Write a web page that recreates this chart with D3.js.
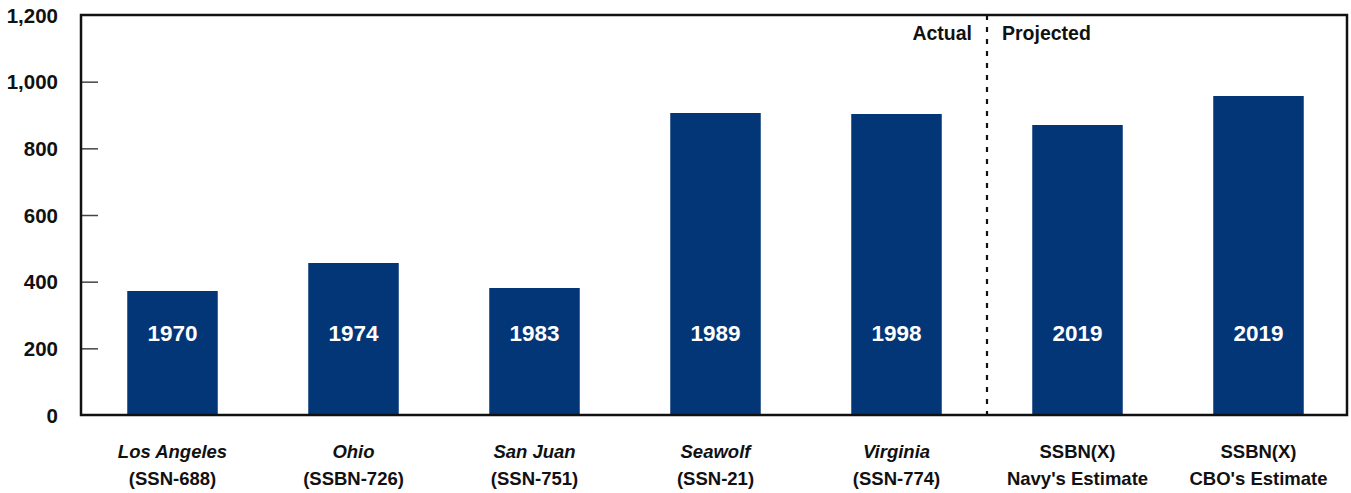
<!DOCTYPE html>
<html>
<head>
<meta charset="utf-8">
<script src="https://cdn.jsdelivr.net/npm/d3@7"></script>
<style>
  body { margin: 0; background: #fff; }
  svg { display: block; font-family: "Liberation Sans", Arial, sans-serif; }
</style>
</head>
<body>
<svg id="chart" width="1351" height="493"></svg>
<script>
// ---- data ----
const shipNames = ["Los Angeles", "Ohio", "San Juan", "Seawolf", "Virginia", "SSBN(X)", "SSBN(X)"];
const shipItalic = [true, true, true, true, true, false, false];
const shipSubLabels = ["(SSN-688)", "(SSBN-726)", "(SSN-751)", "(SSN-21)", "(SSN-774)", "Navy's Estimate", "CBO's Estimate"];
const years = ["1970", "1974", "1983", "1989", "1998", "2019", "2019"];
const values = [372, 456, 381, 906, 903, 870, 957];
const yTicks = [0, 200, 400, 600, 800, 1000, 1200];
const dividerAfter = 4; // index of last "Actual" bar

// ---- layout ----
const W = 1351, H = 493;
const m = { left: 81, right: 4, top: 15, bottom: 78 };
const svg = d3.select("#chart");
const x = d3.scaleBand().domain(d3.range(values.length))
  .range([m.left + 1, W - m.right + 2]).paddingInner(0.5).paddingOuter(0.25);
const y = d3.scaleLinear().domain([0, 1200]).range([H - m.bottom, m.top]);
const barColor = "#033677";

// bars
svg.append("g").selectAll("rect").data(values).join("rect")
  .attr("x", (d, i) => x(i)).attr("width", x.bandwidth())
  .attr("y", d => y(d)).attr("height", d => y(0) - y(d))
  .attr("fill", barColor);

// year labels inside bars
svg.append("g").selectAll("text").data(years).join("text")
  .attr("x", (d, i) => x(i) + x.bandwidth() / 2)
  .attr("y", y(246))
  .attr("text-anchor", "middle").attr("dominant-baseline", "central")
  .attr("fill", "#fff").attr("font-weight", "bold").attr("font-size", 22.5)
  .text(d => d);

// y axis (ticks inward)
const yAxis = d3.axisRight(y).tickValues(yTicks.filter(t => t > 0 && t < 1200)).tickSize(17).tickFormat("");
const gy = svg.append("g").attr("transform", `translate(${m.left},0)`).call(yAxis);
gy.select(".domain").remove();
gy.selectAll(".tick line").attr("stroke", "#444").attr("stroke-width", 1.5);

// y tick labels
svg.append("g").selectAll("text").data(yTicks).join("text")
  .attr("x", m.left - 23).attr("y", d => y(d))
  .attr("text-anchor", "end").attr("dominant-baseline", "central")
  .attr("font-weight", "bold").attr("font-size", 20.5).attr("fill", "#111")
  .text(d => d3.format(",")(d));

// frame
svg.append("rect")
  .attr("x", m.left).attr("y", m.top)
  .attr("width", W - m.right - m.left).attr("height", y(0) - m.top)
  .attr("fill", "none").attr("stroke", "#111").attr("stroke-width", 2.5);

// divider
const divX = (x(dividerAfter) + x.bandwidth() + x(dividerAfter + 1)) / 2;
svg.append("line")
  .attr("x1", divX).attr("x2", divX).attr("y1", m.top).attr("y2", y(0))
  .attr("stroke", "#111").attr("stroke-width", 2.2).attr("stroke-dasharray", "5,7");

svg.append("text").attr("x", divX - 15).attr("y", 33)
  .attr("text-anchor", "end").attr("dominant-baseline", "central")
  .attr("font-weight", "bold").attr("font-size", 19.5).attr("fill", "#111").text("Actual");
svg.append("text").attr("x", divX + 15).attr("y", 33)
  .attr("text-anchor", "start").attr("dominant-baseline", "central")
  .attr("font-weight", "bold").attr("font-size", 19.5).attr("fill", "#111").text("Projected");

// x category labels
const gx = svg.append("g");
gx.selectAll("text.l1").data(shipNames).join("text").attr("class", "l1")
  .attr("x", (d, i) => x(i) + x.bandwidth() / 2).attr("y", 451)
  .attr("text-anchor", "middle").attr("dominant-baseline", "central")
  .attr("font-weight", "bold").attr("font-size", 18.5).attr("fill", "#111")
  .attr("font-style", (d, i) => shipItalic[i] ? "italic" : "normal")
  .text(d => d);
gx.selectAll("text.l2").data(shipSubLabels).join("text").attr("class", "l2")
  .attr("x", (d, i) => x(i) + x.bandwidth() / 2).attr("y", 478)
  .attr("text-anchor", "middle").attr("dominant-baseline", "central")
  .attr("font-weight", "bold").attr("font-size", 18.5).attr("fill", "#111")
  .text(d => d);
</script>
</body>
</html>
